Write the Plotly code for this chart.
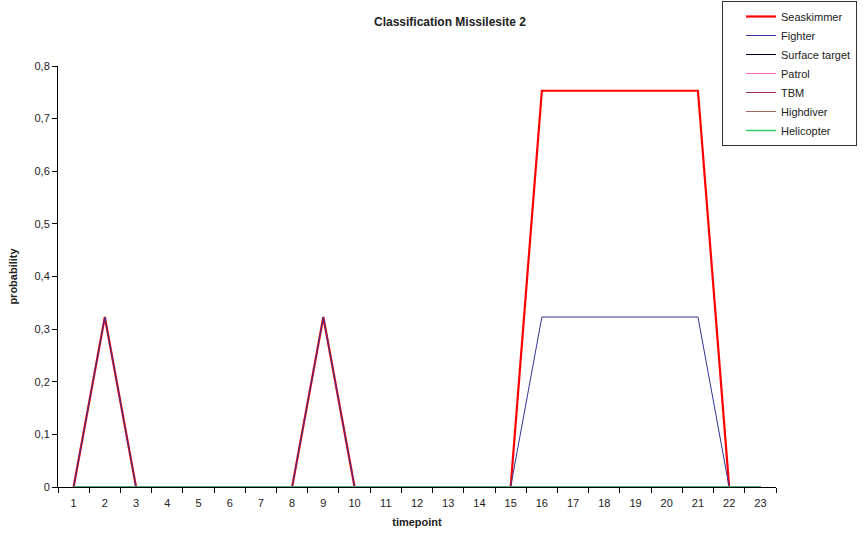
import plotly.graph_objects as go

# time points on the category axis
timepoints = [str(t) for t in range(1, 24)]

# classification probabilities per target type
seaskimmer = [0, 0.323, 0, 0, 0, 0, 0, 0, 0.323, 0, 0, 0, 0, 0, 0,
              0.753, 0.753, 0.753, 0.753, 0.753, 0.753, 0, 0]
fighter = [0, 0.323, 0, 0, 0, 0, 0, 0, 0.323, 0, 0, 0, 0, 0, 0,
           0.323, 0.323, 0.323, 0.323, 0.323, 0.323, 0, 0]
surface_target = [0] * 23
patrol = [0] * 23
tbm = [0] * 23
highdiver = [0] * 23
helicopter = [0] * 23

series = [
    ("Seaskimmer", seaskimmer, "#FF0000", 2.2),
    ("Fighter", fighter, "#333399", 1),
    ("Surface target", surface_target, "#000033", 1),
    ("Patrol", patrol, "#FF66CC", 1),
    ("TBM", tbm, "#993366", 1),
    ("Highdiver", highdiver, "#996666", 1),
    ("Helicopter", helicopter, "#33CC66", 1.5),
]

FONT = "Liberation Sans, Arial, sans-serif"
TXT = "#222222"

fig = go.Figure()
for name, values, color, width in series:
    fig.add_trace(go.Scatter(
        x=timepoints, y=values, name=name, mode="lines",
        line=dict(color=color, width=width),
    ))

fig.update_layout(
    width=868, height=533,
    margin=dict(l=58, r=92, t=66, b=46, autoexpand=False),
    paper_bgcolor="white", plot_bgcolor="white",
    separators=",.",
    font=dict(family=FONT, size=11, color=TXT),
    title=dict(
        text="<b>Classification Missilesite 2</b>",
        x=450 / 868, xref="container", xanchor="center",
        y=1 - 22 / 533, yref="container", yanchor="middle",
        font=dict(family=FONT, size=12, color=TXT),
    ),
    legend=dict(
        x=(722 - 58) / 718, xanchor="left",
        y=1 + 65 / 421, yanchor="top",
        bgcolor="white", bordercolor="#333333", borderwidth=1,
        font=dict(family=FONT, size=11, color=TXT),
        indentation=18,
        itemwidth=30,
        tracegroupgap=0,
    ),
    showlegend=True,
)

fig.update_xaxes(
    type="category",
    range=[-0.5, 22.5],
    tickson="boundaries",
    ticks="outside", ticklen=5, tickcolor="black",
    ticklabelstandoff=6,
    showline=True, linecolor="black", linewidth=1,
    showgrid=False, zeroline=False,
    tickfont=dict(family=FONT, size=11, color=TXT),
    title=dict(text="<b>timepoint</b>", standoff=10,
               font=dict(family=FONT, size=11, color=TXT)),
)

fig.update_yaxes(
    range=[0, 0.8],
    tickvals=[0, 0.1, 0.2, 0.3, 0.4, 0.5, 0.6, 0.7, 0.8],
    ticks="outside", ticklen=5, tickcolor="black",
    showline=True, linecolor="black", linewidth=1,
    showgrid=False, zeroline=False,
    tickfont=dict(family=FONT, size=11, color=TXT),
    title=dict(text="<b>probability</b>", standoff=14,
               font=dict(family=FONT, size=11, color=TXT)),
)

fig.write_html("out.html")
